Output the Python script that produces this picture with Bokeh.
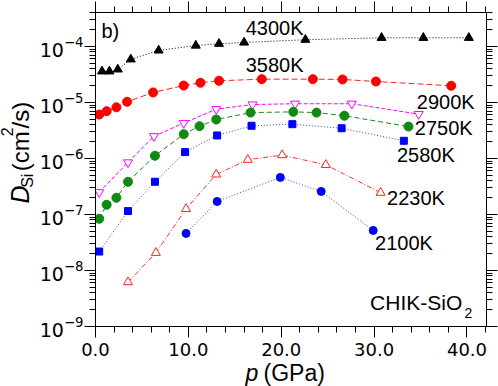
import math
from bokeh.plotting import figure
from bokeh.layouts import row, column
from bokeh.models import (LinearAxis, LogAxis, Range1d, SingleIntervalTicker, FixedTicker,
                          LogTickFormatter, PrintfTickFormatter, CustomJSTickFormatter, Label)
from bokeh.embed import file_html
from bokeh.resources import INLINE

# ---------------- data ----------------
p_4300 = [0.7, 1.5, 2.4, 3.8, 6.8, 10.8, 13.3, 16.0, 22.6, 30.8, 35.3, 40.2]
D_4300 = [3.6e-5, 3.6e-5, 3.9e-5, 5.9e-5, 8.5e-5, 1.04e-4, 1.12e-4, 1.18e-4, 1.32e-4, 1.43e-4, 1.43e-4, 1.43e-4]

p_3580 = [0.4, 1.2, 2.25, 3.4, 6.2, 9.5, 11.3, 13.3, 17.9, 23.4, 26.6, 30.2, 38.3]
D_3580 = [6.1e-6, 7.0e-6, 8.2e-6, 1.03e-5, 1.51e-5, 2.01e-5, 2.25e-5, 2.44e-5, 2.61e-5, 2.61e-5, 2.58e-5, 2.37e-5, 1.99e-5]

p_2900 = [0.4, 3.5, 6.3, 9.5, 13.0, 16.9, 21.5, 27.6, 34.8]
D_2900 = [2.5e-7, 8.5e-7, 2.5e-6, 4.3e-6, 7.6e-6, 9.2e-6, 9.5e-6, 9.5e-6, 6.2e-6]

p_2750 = [0.4, 1.2, 2.25, 3.5, 6.4, 9.5, 11.2, 13.0, 16.7, 21.3, 23.8, 26.8, 33.7]
D_2750 = [8.4e-8, 1.49e-7, 1.99e-7, 3.84e-7, 1.12e-6, 2.72e-6, 3.78e-6, 4.96e-6, 6.6e-6, 6.8e-6, 6.6e-6, 5.8e-6, 3.72e-6]

p_2580 = [0.4, 3.5, 6.4, 9.65, 13.1, 16.8, 21.2, 26.5, 33.2]
D_2580 = [2.18e-8, 1.15e-7, 3.84e-7, 1.30e-6, 2.58e-6, 3.84e-6, 4.1e-6, 3.47e-6, 2.07e-6]

p_2230 = [3.5, 6.5, 9.75, 13.0, 16.4, 20.1, 24.8, 30.7]
D_2230 = [6.2e-9, 2.07e-8, 1.26e-7, 5.2e-7, 9.5e-7, 1.15e-6, 7.7e-7, 2.45e-7]

p_2100 = [9.75, 13.1, 19.9, 24.3, 29.9]
D_2100 = [4.6e-8, 1.71e-7, 4.6e-7, 2.58e-7, 5.2e-8]

x_ticks = [0, 10, 20, 30, 40]
y_decades = [-9, -8, -7, -6, -5, -4]
series_labels = ["4300K", "3580K", "2900K", "2750K", "2580K", "2230K", "2100K"]

# ---------------- layout geometry (page pixels) ----------------
PAGE_W, PAGE_H = 498, 386
YLAB_W = 36            # strip on the left holding the y-axis title
MAIN_H = 360           # main plot height; strip below holds the x-axis title
FL, FT, FR, FB = 93.0, 12.0, 486.0, 326.0   # frame edges on the page
FW, FH = FR - FL, FB - FT
BASE_K = 0.36          # Label anchor sits this many em above the drawn baseline

X0, X1 = 0.0, 42.1
Y0, Y1 = 1e-9, 10 ** -3.393

FONT = "Liberation Sans"
TICKFONT = "DejaVu Sans"

p = figure(width=PAGE_W - YLAB_W, height=MAIN_H, x_range=Range1d(X0, X1), y_range=Range1d(Y0, Y1),
           y_axis_type="log", output_backend="svg", toolbar_location=None, title=None,
           min_border_left=int(FL - YLAB_W), min_border_right=int(PAGE_W - FR),
           min_border_top=int(FT), min_border_bottom=int(MAIN_H - FB))
p.xgrid.visible = False
p.ygrid.visible = False
p.outline_line_color = "black"
p.outline_line_width = 1
p.background_fill_color = "white"
p.border_fill_color = "white"

xticker = SingleIntervalTicker(interval=10, num_minor_ticks=5)
yticker = FixedTicker(ticks=[10.0 ** e for e in y_decades],
                      minor_ticks=[k * 10.0 ** e for e in range(-9, -3) for k in range(2, 10)])


def style_axis(ax, out_major, out_minor):
    ax.major_tick_in = 0
    ax.minor_tick_in = 0
    ax.major_tick_out = out_major
    ax.minor_tick_out = out_minor
    ax.axis_line_color = "black"
    ax.major_tick_line_color = "black"
    ax.minor_tick_line_color = "black"
    ax.axis_line_width = 1
    ax.major_tick_line_width = 1
    ax.minor_tick_line_width = 1


xa = p.xaxis[0]
xa.ticker = xticker
xa.formatter = PrintfTickFormatter(format="%.1f")
style_axis(xa, 11, 6)
xa.major_label_text_font = TICKFONT
xa.major_label_text_font_size = "18px"
xa.major_label_text_color = "black"
xa.major_label_text_line_height = 1.0
xa.major_label_standoff = 5

ya = p.yaxis[0]
ya.ticker = yticker
ya.formatter = LogTickFormatter()
style_axis(ya, 11, 6)
ya.major_label_text_font = TICKFONT
ya.major_label_text_font_size = "19px"
ya.major_label_text_color = "black"
ya.major_label_standoff = 1

blank = CustomJSTickFormatter(code="return ''")
top = LinearAxis(ticker=xticker, formatter=blank, major_label_standoff=0)
style_axis(top, 11, 6)
p.add_layout(top, "above")

right = LogAxis(ticker=yticker, formatter=blank, major_label_standoff=0)
style_axis(right, 11, 6)
p.add_layout(right, "right")

# ---------------- series ----------------
p.line(p_4300, D_4300, line_color="black", line_dash="1 2", line_width=1)
p.scatter(p_4300, D_4300, marker="triangle", size=9, color="black")

p.line(p_3580, D_3580, line_color="#ff2020", line_dash="6 3", line_width=1)
p.scatter(p_3580, D_3580, marker="circle", size=9, color="#ff0000")

p.line(p_2900, D_2900, line_color="#ff00ff", line_dash="4 2", line_width=1)
p.scatter(p_2900, D_2900, marker="inverted_triangle", size=9, line_color="#ff00ff",
          fill_color="white", line_width=1)

p.line(p_2750, D_2750, line_color="#1a8a1a", line_dash="5 3", line_width=1)
p.scatter(p_2750, D_2750, marker="circle", size=9, color="#108a10")

p.line(p_2580, D_2580, line_color="#3a3aff", line_dash="1 2", line_width=1)
p.scatter(p_2580, D_2580, marker="square", size=7, color="#0000ff")

p.line(p_2230, D_2230, line_color="#ff3030", line_dash="5 2 1 2", line_width=1)
p.scatter(p_2230, D_2230, marker="triangle", size=9, line_color="#ff2020",
          fill_color="white", line_width=1)

p.line(p_2100, D_2100, line_color="#3a3aff", line_dash="1 2", line_width=1)
p.scatter(p_2100, D_2100, marker="circle", size=8, color="#0000ff")


# ---------------- annotations (positions in page pixels -> data) ----------------
def dx(px):
    return X0 + (px - FL) / FW * (X1 - X0)


def dy(py):
    ly0, ly1 = math.log10(Y0), math.log10(Y1)
    return 10 ** (ly0 + (FB - py) / FH * (ly1 - ly0))


def lab(fig, s, x, y, size, style="normal", angle=0.0, font=FONT):
    fig.add_layout(Label(x=x, y=y, text=s, angle=angle,
                         text_font=font, text_font_size=f"{size}px", text_font_style=style,
                         text_color="black", text_align="left", text_baseline="alphabetic"))


def txt(s, px, py, size, **kw):
    # px: left edge, py: baseline (page pixels)
    lab(p, s, dx(px), dy(py - BASE_K * size), size, **kw)


txt("b)", 99, 38, 20)
label_pos = [(244, 35), (244, 72), (416, 109), (414, 135), (396, 162), (386, 205), (374, 250)]
for s, (lx, ly) in zip(series_labels, label_pos):
    txt(s, lx, ly, 20)

txt("CHIK-SiO", 369, 310, 21)
txt("2", 464, 318, 14)


def strip(w, h, x0, y0):
    f = figure(width=w, height=h, x_range=Range1d(x0, x0 + w), y_range=Range1d(y0 + h, y0),
               output_backend="svg", toolbar_location=None, title=None,
               x_axis_location=None, y_axis_location=None,
               min_border_left=0, min_border_right=0, min_border_top=0, min_border_bottom=0)
    f.xgrid.visible = False
    f.ygrid.visible = False
    f.outline_line_color = None
    f.background_fill_color = "white"
    f.border_fill_color = "white"
    return f


# y-axis title strip: D_Si (cm^2/s), rotated; coordinates are page pixels
ys = strip(YLAB_W, MAIN_H, 0, 0)
A = math.pi / 2


def vtxt(s, bx, by, size, **kw):
    # bx: baseline x, by: start of text (bottom), page pixels; text reads upward
    lab(ys, s, bx - BASE_K * size, by, size, angle=A, **kw)


vtxt("D", 28.5, 219, 25, style="italic")
vtxt("Si", 33, 201, 16)
vtxt("(cm", 28.5, 182, 24)
vtxt("2", 12.5, 142, 16)
vtxt("/s)", 28.5, 133, 24)

# x-axis title strip: p (GPa)
xs = strip(PAGE_W, PAGE_H - MAIN_H, 0, MAIN_H)
lab(xs, "p", 245, 381 - BASE_K * 23, 23, style="italic")
lab(xs, "(GPa)", 263, 381 - BASE_K * 23, 23)

layout = column(row(ys, p, spacing=0), xs, spacing=0)
open("out.html", "w").write(file_html(layout, INLINE))
